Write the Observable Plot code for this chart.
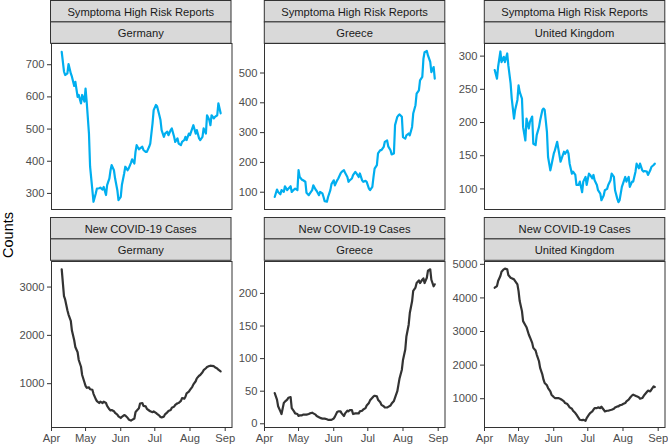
<!DOCTYPE html>
<html>
<head>
<meta charset="utf-8">
<script src="https://cdn.jsdelivr.net/npm/d3@7"></script>
<script src="https://cdn.jsdelivr.net/npm/@observablehq/plot@0.6"></script>
<style>
  html, body { margin: 0; padding: 0; background: #fff; }
  #chart { position: relative; width: 668px; height: 445px; overflow: hidden;
           font-family: "Liberation Sans", Arial, Helvetica, sans-serif; }
  #chart > .cell { position: absolute; }
  #chart svg { overflow: visible; }
</style>
</head>
<body>
<div id="chart"></div>
<script>
// ---------- data ----------
const countries = ["Germany", "Greece", "United Kingdom"];
const measures = ["Symptoma High Risk Reports", "New COVID-19 Cases"];
const axisTitle = "Counts";

// day offsets from 2020-04-01 (shared sampling grid)
const days = [9,11,12,14,15,17,18,20,21,23,24,26,27,29,30,31,33,34,36,37,39,40,42,43,45,46,48,49,51,52,
  53,55,56,58,59,61,62,64,65,67,68,70,71,73,74,75,77,78,80,81,83,84,86,87,89,90,92,93,95,96,
  97,99,100,102,103,105,106,108,109,111,112,114,115,117,118,119,121,122,124,125,127,128,130,131,133,134,136,137,139,140,
  141,143,144,146,147,149,150];

const germanyRisk = [740,679,668,673,702,673,663,634,647,600,606,580,606,585,626,585,486,383,310,274,
  300,315,316,318,312,320,295,326,347,372,388,372,347,310,279,289,326,362,383,372,
  378,395,406,393,429,450,437,440,445,435,429,429,445,455,518,559,575,571,543,528,
  497,476,486,492,481,497,502,476,460,471,455,450,460,466,476,466,486,481,502,512,
  486,497,471,466,476,502,486,543,528,512,543,533,538,543,580,549];
const greeceRisk = [84,109,101,93,107,101,120,107,112,120,101,109,112,107,174,151,142,140,135,98,
  90,96,107,123,109,104,90,101,96,84,70,68,84,107,127,140,123,140,146,163,
  168,174,165,151,135,140,146,157,168,163,151,163,140,135,138,135,112,107,118,151,
  179,191,230,241,241,252,269,274,254,241,227,230,325,353,358,361,353,285,280,291,
  297,291,319,364,392,431,442,475,487,548,570,574,559,537,503,520,481];
const ukRisk = [279,266,284,307,291,299,291,304,286,259,236,206,219,234,256,246,236,193,173,206,
  191,201,209,168,166,181,193,203,219,221,219,186,148,128,136,153,158,171,161,141,
  146,156,153,158,153,138,123,126,121,106,106,111,95,111,118,106,123,121,116,121,
  113,106,98,93,83,90,98,100,106,113,123,118,98,85,80,83,103,108,118,111,
  118,103,111,111,126,138,131,138,128,126,127,126,121,128,133,136,138];

const germanyCases = [3367,2813,2744,2520,2430,2300,2100,1900,1760,1650,1490,1350,1180,1030,955,915,924,885,875,790,
  680,640,600,630,600,630,600,540,470,445,455,430,395,360,325,290,315,350,340,295,
  260,235,250,280,410,440,490,590,600,540,530,480,445,428,410,425,395,375,340,310,
  302,318,365,405,435,455,500,525,560,595,600,645,700,690,730,800,835,870,935,985,
  1050,1110,1165,1180,1235,1280,1320,1345,1365,1372,1370,1362,1340,1315,1290,1256];
const greeceCases = [47,37,27,19,15,32,34,37,40,41,24,19,16,15,12,13,13,14,14,14,
  15,16,17,16,14,12,10,9,8,8,8,7,6,6,6,8,11,18,19,19,
  16,12,16,20,19,21,21,15,16,16,16,19,20,22,24,28,32,36,40,42,
  43,42,37,33,29,27,25,25,26,28,31,35,40,50,60,70,83,98,114,134,
  152,170,188,204,209,216,220,216,221,223,216,224,235,237,221,211,214];
const ukCases = [4303,4353,4502,4652,4781,4851,4871,4851,4682,4602,4582,4552,4502,4403,4204,3905,3607,3309,3189,3129,
  2910,2831,2662,2513,2433,2314,2115,1916,1716,1567,1468,1398,1318,1219,1119,1050,1020,1020,1020,990,
  970,920,871,841,791,741,702,642,572,523,423,373,363,373,343,423,523,572,622,672,
  721,721,741,721,761,672,622,642,642,662,672,702,741,771,771,801,821,841,871,920,
  970,1020,1100,1119,1090,1070,1040,1000,1020,1070,1119,1199,1239,1219,1269,1368,1348];

const monthTicks = ["2020-04-01","2020-05-01","2020-06-01","2020-07-01","2020-08-01","2020-09-01"];
const monthLabels = ["Apr","May","Jun","Jul","Aug","Sep"];

const germanyRiskTicks = [300,400,500,600,700];
const greeceRiskTicks = [100,200,300,400,500];
const ukRiskTicks = [100,150,200,250,300];
const germanyCaseTicks = [1000,2000,3000];
const greeceCaseTicks = [0,50,100,150,200];
const ukCaseTicks = [1000,2000,3000,4000,5000];

// ---------- layout ----------
const startDate = new Date(Date.UTC(2020, 3, 1));
const xDomain = [startDate, d3.utcDay.offset(startDate, 159)];
const colLeft = [50.5, 264.3, 484.3];
const panelW = 180.5;
const rowPanelTop = [43.3, 260.5];
const panelH = 166;
const rowStripTop = [0.5, 217.5];
const stripH = 21.4;
const BLUE = "#00AEEF", DARK = "#333333";
const FONT = '"Liberation Sans", Arial, Helvetica, sans-serif';

const panels = [
  {row:0, col:0, vals:germanyRisk, color:BLUE, y:[250,766], ticks:germanyRiskTicks},
  {row:0, col:1, vals:greeceRisk, color:BLUE, y:[42,599], ticks:greeceRiskTicks},
  {row:0, col:2, vals:ukRisk, color:BLUE, y:[69,319], ticks:ukRiskTicks},
  {row:1, col:0, vals:germanyCases, color:DARK, y:[93,3529], ticks:germanyCaseTicks},
  {row:1, col:1, vals:greeceCases, color:DARK, y:[-5.7,249], ticks:greeceCaseTicks},
  {row:1, col:2, vals:ukCases, color:DARK, y:[143,5084], ticks:ukCaseTicks}
];

const chart = document.getElementById("chart");

// strips + shared y title (decoration layer)
const deco = d3.select(chart).append("svg")
  .attr("width", 668).attr("height", 445)
  .style("position", "absolute").style("left", "0px").style("top", "0px");
for (let r = 0; r < 2; r++) {
  for (let c = 0; c < 3; c++) {
    const labels = [measures[r], countries[c]];
    labels.forEach((lab, k) => {
      const y = rowStripTop[r] + k * stripH;
      deco.append("rect").attr("x", colLeft[c]).attr("y", y)
        .attr("width", panelW).attr("height", stripH)
        .attr("fill", "#D9D9D9").attr("stroke", "#333333").attr("stroke-width", 1);
      deco.append("text").attr("x", colLeft[c] + panelW / 2).attr("y", y + stripH / 2 + 0.5)
        .attr("text-anchor", "middle").attr("dominant-baseline", "central")
        .attr("font-family", FONT).attr("font-size", "11.2px").attr("fill", "#1A1A1A")
        .text(lab);
    });
  }
}
deco.append("text")
  .attr("transform", "translate(8,235) rotate(-90)")
  .attr("text-anchor", "middle").attr("dominant-baseline", "central")
  .attr("font-family", FONT).attr("font-size", "14.5px").attr("fill", "#000")
  .text(axisTitle);

// panels
const monthDates = monthTicks.map(s => new Date(s + "T00:00:00Z"));
const labelOf = new Map(monthDates.map((d, i) => [+d, monthLabels[i]]));
const mL = 45, mR = 2.5, mT = 2;
for (const p of panels) {
  const data = p.vals.map((v, i) => ({date: d3.utcDay.offset(startDate, days[i]), value: v}));
  const mB = p.row === 1 ? 22 : 2;
  const marks = [
    Plot.frame({stroke: "#333333", strokeWidth: 1}),
    Plot.axisY({ticks: p.ticks, tickFormat: d => String(d), tickSize: 4, tickPadding: 3, label: null, stroke: "#333333"}),
    Plot.line(data, {x: "date", y: "value", stroke: p.color, strokeWidth: 2.2})
  ];
  if (p.row === 1) {
    marks.push(Plot.axisX({ticks: monthDates, tickFormat: d => labelOf.get(+d), tickSize: 4, tickPadding: 2.5, label: null, stroke: "#333333"}));
  }
  const svg = Plot.plot({
    width: mL + panelW + mR,
    height: mT + panelH + mB,
    marginLeft: mL, marginRight: mR, marginTop: mT, marginBottom: mB,
    x: {type: "utc", domain: xDomain, ...(p.row === 0 ? {axis: null} : {})},
    y: {domain: p.y},
    style: {fontFamily: FONT, fontSize: "11.2px", color: "#4D4D4D", background: "transparent", overflow: "visible"},
    marks
  });
  const cell = document.createElement("div");
  cell.className = "cell";
  cell.style.left = (colLeft[p.col] - mL) + "px";
  cell.style.top = (rowPanelTop[p.row] - mT) + "px";
  cell.appendChild(svg);
  chart.appendChild(cell);
}
</script>
</body>
</html>
